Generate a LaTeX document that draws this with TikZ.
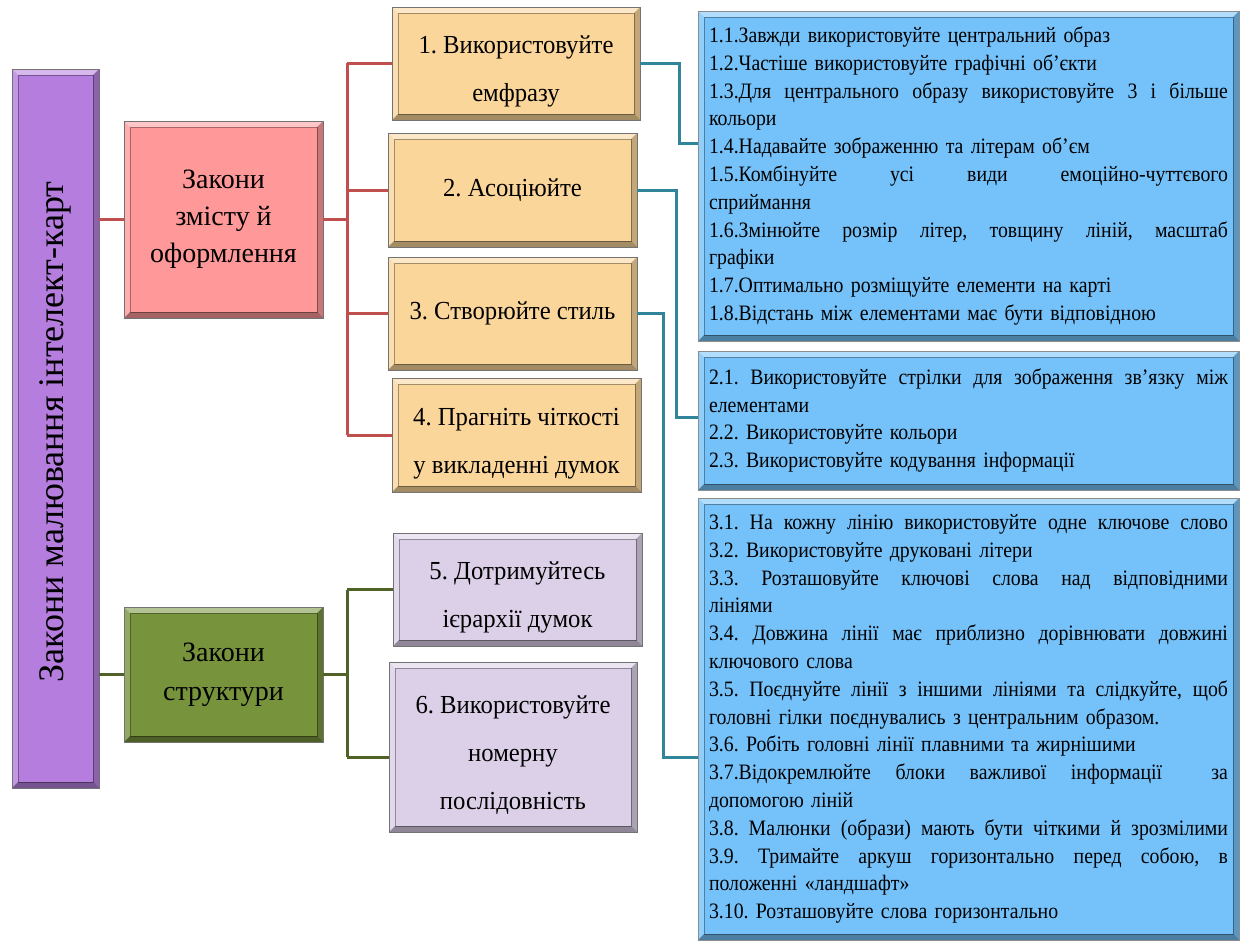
\documentclass[tikz,border=0pt]{standalone}
\usepackage{fontspec}
\setmainfont{Liberation Serif}
\newfontfamily\bluef[FakeStretch=0.9]{Liberation Serif}
\newfontfamily\yelf[FakeStretch=0.95]{Liberation Serif}
\frenchspacing
\definecolor{cpurple}{RGB}{181,126,222}
\definecolor{cpink}{RGB}{255,153,153}
\definecolor{cgreen}{RGB}{119,147,60}
\definecolor{cyellow}{RGB}{251,214,155}
\definecolor{clav}{RGB}{220,208,232}
\definecolor{cblue}{RGB}{117,194,250}
\definecolor{cred}{RGB}{192,80,77}
\definecolor{cgr}{RGB}{79,98,40}
\definecolor{cteal}{RGB}{49,133,155}
\newlength{\bvw}\setlength{\bvw}{6pt}
\newlength{\blw}\setlength{\blw}{519pt}
\newcommand{\jl}[1]{\leavevmode\hbox to \blw{\spaceskip=0pt\xspaceskip=0pt #1}}
\newcommand{\fs}{\rule{0pt}{34pt}}
\tikzset{
  bevel/.style={path picture={
    \path (path picture bounding box.north west) coordinate (bvnw)
          (path picture bounding box.north east) coordinate (bvne)
          (path picture bounding box.south west) coordinate (bvsw)
          (path picture bounding box.south east) coordinate (bvse);
    \path ([shift={(\bvw,-\bvw)}]bvnw) coordinate (bvinw)
          ([shift={(-\bvw,-\bvw)}]bvne) coordinate (bvine)
          ([shift={(\bvw,\bvw)}]bvsw) coordinate (bvisw)
          ([shift={(-\bvw,\bvw)}]bvse) coordinate (bvise);
    \fill[white,opacity=.45] (bvnw) -- (bvne) -- (bvine) -- (bvinw) -- cycle;
    \fill[white,opacity=.2] (bvnw) -- (bvinw) -- (bvisw) -- (bvsw) -- cycle;
    \fill[black,opacity=.35] (bvsw) -- (bvisw) -- (bvise) -- (bvse) -- cycle;
    \fill[black,opacity=.22] (bvse) -- (bvise) -- (bvine) -- (bvne) -- cycle;
    \draw[black,opacity=.35,line width=.8pt] (bvinw) rectangle (bvise);
  }},
  box/.style={draw=black!55, line width=.8pt, bevel, inner sep=0pt, align=center},
  ybox/.style={box, fill=cyellow, font=\yelf\fontsize{26}{48}\selectfont},
  lbox/.style={box, fill=clav, font=\yelf\fontsize{26}{48}\selectfont},
  bbox/.style={box, fill=cblue, draw=black!45, text width=\blw, inner xsep=11pt, align=left,
     font=\bluef\fontsize{22}{27.8}\selectfont},
  redl/.style={draw=cred, line width=3pt},
  grnl/.style={draw=cgr, line width=3pt},
  teal/.style={draw=cteal, line width=3pt},
}
\begin{document}
\begin{tikzpicture}[x=1pt,y=-1pt]
\useasboundingbox (0,0) rectangle (1243,942);
% root
\node[box, fill=cpurple, minimum width=87, minimum height=719] (root) at (55.5,428.5) {};
\node[rotate=90, font=\fontsize{36}{40}\selectfont] (roottext) at (55.5,432) {Закони малювання інтелект-карт};
% level 1
\node[box, fill=cpink, minimum width=199, minimum height=197, font=\fontsize{28}{37}\selectfont] (pink) at (223.5,219.5) {Закони\\змісту й\\оформлення};
\node[box, fill=cgreen, minimum width=199, minimum height=135, font=\fontsize{28}{39}\selectfont] (green) at (223.5,674.5) {Закони\\структури};
% level 2
\node[ybox, minimum width=248, minimum height=113] (y1) at (516,63.5) {\fs1. Використовуйте\\емфразу};
\node[ybox, minimum width=249, minimum height=114] (y2) at (512.5,190) {2. Асоціюйте};
\node[ybox, minimum width=249, minimum height=113] (y3) at (512.5,313.5) {3. Створюйте стиль};
\node[ybox, minimum width=249, minimum height=114] (y4) at (516.5,435) {\fs4. Прагніть чіткості\\у викладенні думок};
\node[lbox, minimum width=249, minimum height=113] (l5) at (517.5,589.5) {\fs5. Дотримуйтесь\\ієрархії думок};
\node[lbox, minimum width=248, minimum height=170] (l6) at (513,747) {\fs6. Використовуйте\\номерну\\послідовність};
% level 3
\node[bbox, minimum height=330] (b1) at (968.5,176) {%
1.1.Завжди використовуйте центральний образ\\
1.2.Частіше використовуйте графічні об’єкти\\
\jl{1.3.Для центрального образу використовуйте 3 і більше}\\
кольори\\
1.4.Надавайте зображенню та літерам об’єм\\
\jl{1.5.Комбінуйте усі види емоційно-чуттєвого}\\
сприймання\\
\jl{1.6.Змінюйте розмір літер, товщину ліній, масштаб}\\
графіки\\
1.7.Оптимально розміщуйте елементи на карті\\
1.8.Відстань між елементами має бути відповідною};
\node[bbox, minimum height=139] (b2) at (968.5,420.5) {%
\jl{2.1. Використовуйте стрілки для зображення зв’язку між}\\
елементами\\
2.2. Використовуйте кольори\\
2.3. Використовуйте кодування інформації};
\node[bbox, minimum height=442] (b3) at (968.5,719) {%
\jl{3.1. На кожну лінію використовуйте одне ключове слово}\\
3.2. Використовуйте друковані літери\\
\jl{3.3. Розташовуйте ключові слова над відповідними}\\
лініями\\
\jl{3.4. Довжина лінії має приблизно дорівнювати довжині}\\
ключового слова\\
\jl{3.5. Поєднуйте лінії з іншими лініями та слідкуйте, щоб}\\
головні гілки поєднувались з центральним образом.\\
3.6. Робіть головні лінії плавними та жирнішими\\
\jl{3.7.Відокремлюйте блоки важливої інформації \ за}\\
допомогою ліній\\
\jl{3.8. Малюнки (образи) мають бути чіткими й зрозмілими}\\
\jl{3.9. Тримайте аркуш горизонтально перед собою, в}\\
положенні «ландшафт»\\
3.10. Розташовуйте слова горизонтально};
% connector coordinates
\coordinate (rs) at (347,0);
\coordinate (gs) at (347,0);
\coordinate (t1) at (679,143);
\coordinate (t2) at (676,417);
\coordinate (t3) at (663,757);
% red connectors
\draw[redl] (pink.west -| root.east) -- (pink.west);
\draw[redl] (pink.east) -- (pink.east -| rs);
\draw[redl] (y1.west -| rs) -- (y4.west -| rs);
\draw[redl] (y1.west -| rs) -- (y1.west);
\draw[redl] (y2.west -| rs) -- (y2.west);
\draw[redl] (y3.west -| rs) -- (y3.west);
\draw[redl] (y4.west -| rs) -- (y4.west);
% green connectors
\draw[grnl] (green.west -| root.east) -- (green.west);
\draw[grnl] (green.east) -- (green.east -| gs);
\draw[grnl] (l5.west -| gs) -- ([yshift=-10pt]l6.west -| gs);
\draw[grnl] (l5.west -| gs) -- (l5.west);
\draw[grnl] ([yshift=-10pt]l6.west -| gs) -- ([yshift=-10pt]l6.west);
% teal connectors
\draw[teal] (y1.east) -| (t1) -- (t1 -| b1.west);
\draw[teal] (y2.east) -| (t2) -- (t2 -| b2.west);
\draw[teal] (y3.east) -| (t3) -- (t3 -| b3.west);
\end{tikzpicture}
\end{document}
